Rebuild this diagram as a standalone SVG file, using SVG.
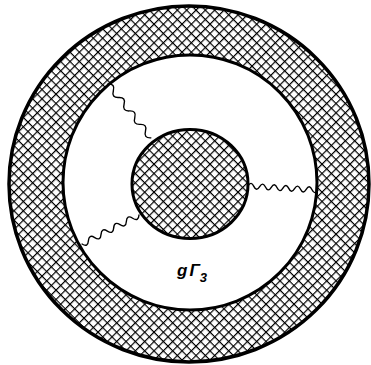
<svg xmlns="http://www.w3.org/2000/svg" width="371" height="365" viewBox="0 0 371 365">
<style>
.edge{fill:none;stroke:#000;stroke-width:1.4;stroke-linecap:round}
.lbl{font-family:"Liberation Sans",sans-serif;font-style:italic;font-weight:bold;font-size:17px;fill:#000}
</style>
<defs>
<pattern id="hatch" patternUnits="userSpaceOnUse" width="6.6" height="6.6" patternTransform="rotate(45)">
<rect width="6.6" height="6.6" fill="#fff"/>
<path d="M0,0H6.6M0,0V6.6" stroke="#000" stroke-width="2.4"/>
</pattern>
</defs>
<rect width="371" height="365" fill="#fff"/>
<g id="outer-ring">
<ellipse cx="189" cy="184" rx="180" ry="178" fill="url(#hatch)" stroke="#000" stroke-width="3.5"/>
<ellipse cx="190" cy="182.5" rx="127" ry="127.5" fill="#fff" stroke="#000" stroke-width="3"/>
</g>
<g id="core">
<ellipse cx="190" cy="184" rx="58" ry="54.5" fill="url(#hatch)" stroke="#000" stroke-width="3"/>
</g>
<g id="connectors">
<path class="edge" transform="translate(108,84) rotate(51.5)" d="M0,0 q4.3,-6 8.6,0 t8.6,0 t8.6,0 t8.6,0 t8.6,0 t8.6,0 t8.6,0 t8.6,0"/>
<path class="edge" transform="translate(248,186) rotate(3.3)" d="M0,0 q2.92,-5.5 5.83,0 t5.83,0 t5.83,0 t5.83,0 t5.83,0 t5.83,0 t5.83,0 t5.83,0 t5.83,0 t5.83,0 t5.83,0 t5.83,0"/>
<path class="edge" transform="translate(139,215) rotate(153)" d="M0,0 q3.55,-6 7.1,0 t7.1,0 t7.1,0 t7.1,0 t7.1,0 t7.1,0 t7.1,0 t7.1,0 t7.1,0"/>
</g>
<g id="label">
<text class="lbl" x="177" y="276">g<tspan dx="2">Γ</tspan><tspan font-size="13" dy="6">3</tspan></text>
</g>
</svg>
